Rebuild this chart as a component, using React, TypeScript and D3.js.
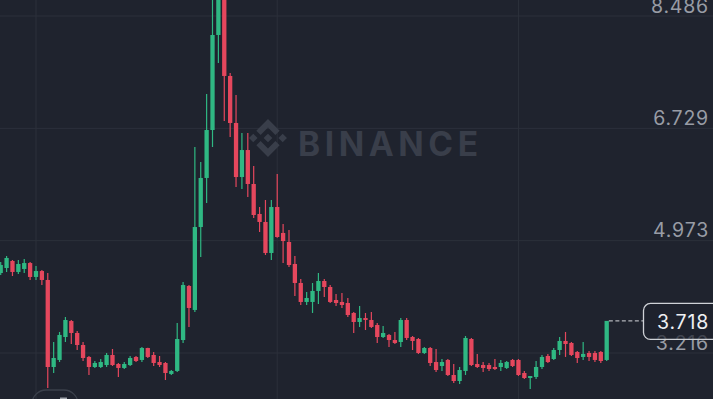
import React from 'react';
import * as d3 from 'd3';

const W = 713;
const H = 399;

// OHLC series (price), one candle per period, oldest first
const opens = [
  4.467, 4.545, 4.655, 4.483, 4.530, 4.623, 4.405, 4.498, 4.358, 2.997,
  3.107, 3.466, 3.716, 3.529, 3.341, 3.154, 2.997, 2.997, 3.028, 3.185,
  3.044, 2.982, 3.028, 3.154, 3.107, 3.294, 3.185, 3.075, 3.060, 2.888,
  2.935, 3.419, 4.264, 3.889, 5.186, 5.953, 6.703, 8.189, 8.971, 7.548,
  6.813, 5.968, 6.390, 5.859, 5.390, 5.265, 4.780, 5.499, 5.093, 4.952,
  4.608, 4.311, 4.014, 4.014, 4.186, 4.342, 4.248, 4.045, 4.014, 3.998,
  3.842, 3.701, 3.763, 3.732, 3.654, 3.466, 3.498, 3.419, 3.388, 3.732,
  3.466, 3.435, 3.216, 3.294, 3.075, 3.013, 3.107, 2.872, 2.778, 2.935,
  3.435, 3.044, 3.028, 3.028, 2.997, 2.997, 2.982, 3.107, 3.107, 2.903,
  2.825, 2.841, 2.997, 3.169, 3.122, 3.263, 3.404, 3.373, 3.232, 3.154,
  3.216, 3.216, 3.232, 3.107,
];
const highs = [
  4.639, 4.733, 4.670, 4.670, 4.686, 4.639, 4.577, 4.514, 4.467, 3.388,
  3.545, 3.779, 3.732, 3.560, 3.388, 3.169, 3.091, 3.122, 3.216, 3.279,
  3.060, 3.075, 3.169, 3.169, 3.310, 3.300, 3.232, 3.169, 3.075, 2.950,
  3.685, 4.326, 4.279, 6.437, 6.203, 7.266, 8.814, 9.205, 9.127, 7.594,
  7.250, 6.656, 6.656, 6.140, 5.499, 5.609, 5.609, 6.015, 5.233, 5.139,
  4.733, 4.373, 4.170, 4.311, 4.467, 4.373, 4.279, 4.139, 4.154, 4.076,
  3.857, 3.951, 3.842, 3.857, 3.685, 3.638, 3.513, 3.545, 3.763, 3.763,
  3.482, 3.451, 3.310, 3.310, 3.279, 3.122, 3.122, 3.044, 2.997, 3.482,
  3.451, 3.201, 3.075, 3.060, 3.122, 3.107, 3.091, 3.122, 3.122, 2.935,
  2.856, 3.091, 3.185, 3.201, 3.294, 3.466, 3.545, 3.388, 3.247, 3.388,
  3.247, 3.247, 3.247, 3.718,
];
const lows = [
  4.436, 4.483, 4.420, 4.451, 4.467, 4.358, 4.358, 4.279, 2.669, 2.903,
  3.075, 3.388, 3.357, 3.263, 3.091, 2.872, 2.982, 2.982, 2.997, 3.013,
  2.841, 2.966, 3.013, 3.075, 3.075, 3.138, 3.013, 2.997, 2.794, 2.872,
  2.919, 3.373, 3.623, 3.857, 4.717, 5.562, 6.437, 7.751, 6.844, 6.594,
  5.812, 5.781, 5.656, 5.327, 5.108, 4.749, 4.670, 5.020, 4.623, 4.561,
  4.107, 3.967, 3.967, 3.842, 3.982, 4.092, 3.998, 3.951, 3.920, 3.779,
  3.529, 3.623, 3.576, 3.607, 3.373, 3.451, 3.310, 3.357, 3.310, 3.419,
  3.263, 3.201, 3.201, 3.013, 2.919, 2.935, 2.856, 2.747, 2.731, 2.872,
  3.013, 2.982, 2.919, 2.935, 2.950, 2.935, 2.966, 2.997, 2.856, 2.809,
  2.653, 2.809, 2.966, 3.060, 3.107, 3.185, 3.154, 3.169, 3.060, 3.107,
  3.091, 3.075, 3.060, 3.091,
];
const closes = [
  4.592, 4.702, 4.483, 4.608, 4.623, 4.405, 4.498, 4.358, 2.997, 3.138,
  3.498, 3.732, 3.529, 3.341, 3.138, 2.997, 3.060, 3.075, 3.185, 3.028,
  2.982, 3.044, 3.138, 3.091, 3.294, 3.154, 3.060, 3.028, 2.903, 2.935,
  3.435, 4.279, 3.920, 5.186, 5.953, 6.703, 8.189, 8.971, 7.548, 6.813,
  5.968, 6.390, 5.859, 5.374, 5.265, 4.780, 5.499, 5.030, 4.967, 4.592,
  4.311, 4.014, 4.076, 4.186, 4.342, 4.248, 4.014, 3.998, 3.967, 3.810,
  3.701, 3.763, 3.732, 3.623, 3.466, 3.529, 3.419, 3.373, 3.732, 3.451,
  3.404, 3.216, 3.294, 3.060, 2.950, 3.075, 2.872, 2.778, 2.950, 3.451,
  3.028, 2.997, 2.982, 2.966, 2.966, 3.060, 3.075, 3.013, 2.872, 2.825,
  2.856, 2.997, 3.154, 3.075, 3.263, 3.404, 3.357, 3.185, 3.138, 3.201,
  3.154, 3.107, 3.091, 3.718,
];

const yTicks = [8.486, 6.729, 4.973, 3.216];
const timeGridIndex = [6, 47, 88];
const lastPrice = 3.718;
const watermarkText = 'BINANCE';

const BG = '#1f232e';
const GRID = '#2c303b';
const UP = '#2fb883';
const DOWN = '#e5475d';
const AXIS_TEXT = '#989ca5';
const WATERMARK = '#393e4a';

export default function App() {
  const data = opens.map((o, i) => ({ i, o, h: highs[i], l: lows[i], c: closes[i] }));
  const x = d3.scaleLinear().domain([0, data.length - 1]).range([0.7, 606.7]);
  const y = d3.scaleLinear().domain([3.216, 8.486]).range([353, 16]);
  const bodyW = 4.3;
  const lastY = y(lastPrice);
  const lastX = x(data.length - 1) + bodyW / 2;

  return (
    <svg
      width={W}
      height={H}
      viewBox={`0 0 ${W} ${H}`}
      style={{ position: 'fixed', left: 0, top: 0, display: 'block' }}
    >
      <rect x={0} y={0} width={W} height={H} fill={BG} />
      {yTicks.map((t) => (
        <line key={'h' + t} x1={0} x2={W} y1={y(t)} y2={y(t)} stroke={GRID} strokeWidth={1} />
      ))}
      {timeGridIndex.map((k) => (
        <line key={'v' + k} x1={x(k)} x2={x(k)} y1={0} y2={H} stroke={GRID} strokeWidth={1} />
      ))}

      {/* watermark */}
      <g fill={WATERMARK} transform="translate(249,119) scale(0.3)">
        <path d="M38.73,53.2,63.3,28.63,87.89,53.22l14.3-14.3L63.3,0,24.43,38.9l14.3,14.3" />
        <path d="M0,63.31l14.3-14.3,14.3,14.3L14.3,77.61Z" />
        <path d="M38.73,73.41,63.3,98l24.59-24.59,14.31,14.29,0,0L63.3,126.61,24.42,87.73l0,0,14.31-14.3" />
        <path d="M98,63.31l14.3-14.3,14.3,14.3-14.3,14.3Z" />
        <path d="M77.83,63.3h0L63.3,48.76,52.55,59.51h0l-1.24,1.24-2.54,2.54h0l0,0,14.53,14.53,14.54-14.54h0Z" />
      </g>
      <text
        x={298}
        y={156}
        fill={WATERMARK}
        fontFamily="Inter, 'Open Sans', sans-serif"
        fontWeight={700}
        fontSize={33.5}
        textLength={180}
        lengthAdjust="spacing"
      >
        {watermarkText}
      </text>

      {/* candles */}
      {data.map((d) => {
        const up = d.c >= d.o;
        const col = up ? UP : DOWN;
        const cx = x(d.i);
        const top = y(Math.max(d.o, d.c));
        const bot = y(Math.min(d.o, d.c));
        return (
          <g key={d.i}>
            <line x1={cx} x2={cx} y1={y(d.h)} y2={y(d.l)} stroke={col} strokeWidth={1.2} />
            <rect x={cx - bodyW / 2} y={top} width={bodyW} height={Math.max(1.5, bot - top)} fill={col} />
          </g>
        );
      })}

      {/* price axis labels */}
      {yTicks.map((t) => (
        <text
          key={'t' + t}
          x={709}
          y={y(t) - 3.5}
          textAnchor="end"
          fill={AXIS_TEXT}
          fontFamily="Inter, 'Open Sans', sans-serif"
          fontSize={19.5}
          letterSpacing={0.8}
        >
          {d3.format('.3f')(t)}
        </text>
      ))}

      {/* last price line + label */}
      <line x1={lastX} x2={643.5} y1={lastY} y2={lastY} stroke="#d6d8dc" strokeWidth={1} strokeDasharray="4 2.5" />
      <rect
        x={643.5}
        y={lastY - 17.5}
        width={90}
        height={36}
        rx={7}
        fill="rgba(31,35,46,0.72)"
        stroke="#cfd2d7"
        strokeWidth={1.3}
      />
      <text
        x={709}
        y={lastY + 8}
        textAnchor="end"
        fill="#eef0f2"
        fontFamily="Inter, 'Open Sans', sans-serif"
        fontSize={19.5}
        letterSpacing={0.8}
      >
        {d3.format('.3f')(lastPrice)}
      </text>

      {/* bottom-left control */}
      <rect x={32} y={390} width={46} height={30} rx={14} fill="none" stroke="#3b404b" strokeWidth={1.3} />
      <rect x={60} y={397.5} width={7} height={2} fill="#9ea2a9" />
    </svg>
  );
}
